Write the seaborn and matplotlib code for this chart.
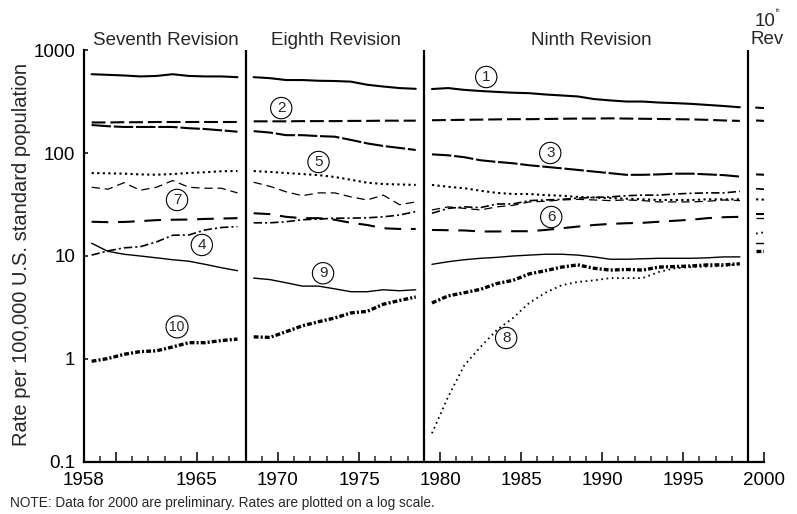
import matplotlib
matplotlib.use("Agg")
import matplotlib.pyplot as plt
import seaborn as sns
import pandas as pd

# --- Data: age-adjusted rates, one list per revision (7th, 8th, 9th, 10th) ---
years_rev = [
    list(range(1958, 1968)),
    list(range(1968, 1979)),
    list(range(1979, 1999)),
    [1999, 2000],
]

heart = [
    [582, 574, 566, 554, 560, 582, 560, 554, 554, 545],
    [545, 533, 511, 511, 503, 500, 493, 460, 442, 427, 420],
    [418, 427, 410, 400, 392, 385, 381, 370, 362, 354, 334, 324, 316, 316, 309, 305, 300, 293, 286, 278],
    [276, 270],
]
cancer = [
    [198, 198, 199, 199, 200, 200, 200, 200, 200, 200],
    [203, 203, 203, 204, 204, 204, 205, 205, 206, 206, 206],
    [208, 209, 210, 211, 212, 213, 213, 214, 215, 216, 216, 217, 216, 215, 214, 213, 212, 210, 207, 205],
    [207, 203],
]
stroke = [
    [187, 182, 179, 179, 179, 179, 174, 171, 166, 161],
    [163, 158, 149, 149, 146, 144, 134, 124, 117, 112, 107],
    [97, 95, 91, 85, 82, 79.5, 76, 73.5, 71, 68.5, 66, 63.7, 61.4, 61.4, 62, 63, 63, 62, 61, 59],
    [62, 61],
]
clrd = [
    [10.2, 11.2, 12.0, 12.3, 13.7, 15.9, 16.0, 17.9, 18.9, 19.3],
    [21, 21, 21.5, 22.5, 22.8, 23.3, 23.3, 23.5, 24, 25, 27],
    [26, 29, 30, 29.5, 32, 32, 34.5, 35, 35.5, 36.5, 37, 37.5, 38.5, 39, 39, 40, 40.6, 41, 41, 42.4],
    [45, 44],
]
accidents = [
    [63.9, 63.5, 63.0, 62.0, 61.5, 62.5, 64.0, 65.0, 66.5, 66.8],
    [66.8, 65.5, 63.9, 62.5, 61.0, 58.5, 55.0, 51.5, 50.0, 49.5, 49.0],
    [49, 47, 45.5, 43, 41, 40, 40, 39, 38.5, 37.5, 37, 36.5, 36, 35.5, 35, 35, 35, 35.5, 35.5, 35.5],
    [35.5, 35],
]
diabetes = [
    [21.5, 21.3, 21.4, 21.8, 22.3, 22.5, 22.6, 22.9, 23.1, 23.3],
    [26, 25.5, 24, 23.3, 23.3, 22.5, 21, 20, 18.6, 18.3, 18.3],
    [17.9, 17.8, 17.7, 17.3, 17.3, 17.4, 17.4, 17.9, 18.6, 19.3, 20, 20.5, 20.8, 21, 21.5, 22, 22.5, 23.3, 23.8, 24],
    [25.5, 25.5],
]
influenza = [
    [46.5, 44.5, 51.5, 43.5, 46.5, 54.0, 46.5, 45.5, 45.5, 41.0],
    [52, 47.5, 42, 38.5, 41, 41, 37.5, 35, 39, 31.5, 33.5],
    [28, 30, 29, 28, 30, 31, 33.5, 34, 35, 35.5, 35, 34.5, 35, 34.5, 33.5, 33.5, 33.5, 34, 35, 34.5],
    [23.5, 23.5],
]
alzheimer = [
    [],
    [],
    [0.19, 0.43, 0.87, 1.31, 1.91, 2.5, 3.5, 4.4, 5.2, 5.6, 5.8, 6.1, 6.1, 6.1, 7.0, 7.6, 7.8, 7.9, 8.0, 8.4],
    [16.5, 17.5],
]
nephritis = [
    [13.3, 11.1, 10.4, 10.0, 9.6, 9.2, 8.9, 8.3, 7.7, 7.2],
    [6.1, 5.9, 5.5, 5.1, 5.1, 4.8, 4.5, 4.5, 4.7, 4.6, 4.7],
    [8.3, 8.8, 9.2, 9.5, 9.7, 10.0, 10.2, 10.4, 10.4, 10.2, 9.8, 9.3, 9.3, 9.4, 9.5, 9.5, 9.5, 9.6, 9.8, 9.8],
    [13.5, 13.5],
]
septicemia = [
    [0.95, 1.01, 1.11, 1.18, 1.2, 1.31, 1.44, 1.44, 1.51, 1.56],
    [1.64, 1.62, 1.84, 2.1, 2.3, 2.5, 2.8, 2.9, 3.4, 3.7, 4.0],
    [3.5, 4.1, 4.4, 4.75, 5.4, 5.8, 6.7, 7.2, 7.8, 8.2, 7.6, 7.3, 7.4, 7.3, 7.8, 7.9, 8.0, 8.2, 8.2, 8.4],
    [11.3, 11.3],
]

cause_ids = ["1", "2", "3", "4", "5", "6", "7", "8", "9", "10"]
cause_series = [heart, cancer, stroke, clrd, accidents, diabetes, influenza,
                alzheimer, nephritis, septicemia]

revision_names = ["Seventh Revision", "Eighth Revision", "Ninth Revision"]
revision_breaks = [1968, 1979, 1999]

xtick_pos = [1958, 1960, 1965, 1970, 1975, 1980, 1985, 1990, 1995, 2000]
xtick_labels = ["1958", "", "1965", "1970", "1975", "1980", "1985", "1990", "1995", "2000"]
ytick_pos = [0.1, 1, 10, 100, 1000]
ytick_labels = ["0.1", "1", "10", "100", "1000"]

# circled-number label positions (year, rate)
label_pos = {
    "1": (1982.85, 547), "2": (1970.2, 273), "3": (1986.8, 100),
    "4": (1965.3, 12.8), "5": (1972.5, 81.8), "6": (1986.86, 23.9),
    "7": (1963.77, 35), "8": (1984.08, 1.6), "9": (1972.78, 6.8),
    "10": (1963.77, 2.05),
}

# --- Long-form table; yearly values are plotted at mid-year ---
rows = []
for cid, series in zip(cause_ids, cause_series):
    for rev, (yrs, vals) in enumerate(zip(years_rev, series)):
        for yr, v in zip(yrs, vals):
            rows.append({"x": yr + 0.5, "rate": v, "cause": cid, "revision": rev})
df = pd.DataFrame(rows)

# --- Style ---
sns.set_theme(style="ticks")
plt.rcParams["font.family"] = ["Liberation Sans", "DejaVu Sans"]
plt.rcParams["lines.scale_dashes"] = False
plt.rcParams["lines.dash_capstyle"] = "butt"

dash_map = {
    "1": "", "2": (10, 3.5), "3": (14, 2), "4": (6, 2.2, 1.5, 2.2),
    "5": (1.6, 2.4), "6": (12, 7), "7": (6, 3.5), "8": (1.2, 2.6),
    "9": "", "10": (3.5, 1.5, 1.5, 1.5),
}
width_map = {
    "1": 1.5, "2": 1.5, "3": 1.5, "4": 1.2, "5": 1.5, "6": 1.5,
    "7": 0.9, "8": 1.3, "9": 1.0, "10": 2.4,
}

fig = plt.figure(figsize=(7.97, 5.14), dpi=100)
ax = fig.add_axes([0.1048, 0.1012, 0.854, 0.8015])

sns.lineplot(data=df, x="x", y="rate", style="cause", size="cause",
             units="revision", estimator=None, sort=False,
             dashes=dash_map, sizes=width_map, style_order=cause_ids,
             size_order=cause_ids, color="black", legend=False, ax=ax)

ax.set_yscale("log")
ax.set_xlim(1958, 2000)
ax.set_ylim(0.1, 1000)

for xb in revision_breaks:
    ax.axvline(xb, color="black", lw=1.6)

ax.set_xticks(xtick_pos)
ax.set_xticklabels(xtick_labels)
ax.set_xticks(range(1958, 2001), minor=True)
ax.set_yticks(ytick_pos)
ax.set_yticklabels(ytick_labels)
ax.yaxis.set_minor_locator(matplotlib.ticker.NullLocator())
ax.tick_params(axis="x", which="major", direction="in", length=7.5, width=1.1,
               labelsize=13.5, pad=7, colors="black")
ax.tick_params(axis="x", which="minor", direction="in", length=4.5, width=1.1)
ax.tick_params(axis="y", which="major", direction="in", length=3, width=1.1,
               labelsize=13.5, pad=6, colors="black")
ax.set_xlabel("")
ax.set_ylabel("")

for side in ["top", "right"]:
    ax.spines[side].set_visible(False)
for side in ["left", "bottom"]:
    ax.spines[side].set_linewidth(1.6)
    ax.spines[side].set_color("black")

for cid, (lx, ly) in label_pos.items():
    ax.text(lx, ly, cid, ha="center", va="center",
            fontsize=11 if len(cid) == 1 else 10,
            bbox=dict(boxstyle="circle,pad=0.24", fc="white", ec="black", lw=0.8))

# --- Revision headers and axis texts ---
header_x = [166, 336, 591]
for name, hx in zip(revision_names, header_x):
    fig.text(hx / 797, 1 - 41 / 514, name, ha="center", va="center", fontsize=13.5)
fig.text(765 / 797, 1 - 21 / 514, "10", ha="center", va="center", fontsize=13.5)
fig.text(776 / 797, 1 - 11 / 514, "th", ha="left", va="center", fontsize=4)
fig.text(767 / 797, 1 - 40 / 514, "Rev", ha="center", va="center", fontsize=13.5)

fig.text(22 / 797, 1 - 255 / 514, "Rate per 100,000 U.S. standard population",
         rotation=90, ha="center", va="center", fontsize=14.5)
fig.text(10 / 797, 1 - 503 / 514,
         "NOTE: Data for 2000 are preliminary. Rates are plotted on a log scale.",
         ha="left", va="center", fontsize=9.8)

fig.savefig("out.png", dpi=100)
